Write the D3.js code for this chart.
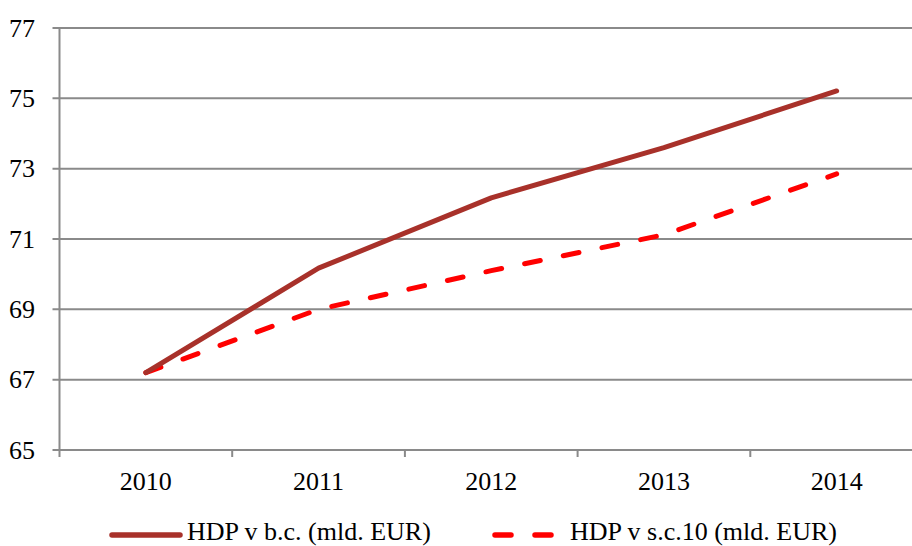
<!DOCTYPE html>
<html><head><meta charset="utf-8">
<script src="https://cdn.jsdelivr.net/npm/d3@7"></script>
<style>body{margin:0;background:#fff}svg{display:block}text{font-family:"Liberation Serif","Times New Roman",serif;fill:#000}</style>
</head><body><svg id="c" width="912" height="546"></svg>
<script>
const years = ["2010","2011","2012","2013","2014"];
const hdpBc = [67.2, 70.17, 72.17, 73.6, 75.21];
const hdpSc10 = [67.2, 69.0, 70.1, 71.12, 72.85];
const yTicks = [65, 67, 69, 71, 73, 75, 77];
const seriesNames = ["HDP v b.c. (mld. EUR)", "HDP v s.c.10 (mld. EUR)"];

(function () {
const svg = d3.select("#c");
const pL = 59.5, pR = 923, pT = 28, pB = 450;
const x = d3.scaleBand().domain(years).range([pL, pR]);
const y = d3.scaleLinear().domain([65, 77]).range([pB, pT]);
const grid = "#8a8a8a";
const fs = 26;

svg.append("g").selectAll("line").data(yTicks).join("line")
  .attr("x1", pL - 7).attr("x2", 912)
  .attr("y1", d => y(d)).attr("y2", d => y(d))
  .attr("stroke", grid).attr("stroke-width", 2);
svg.append("g").selectAll("text").data(yTicks).join("text")
  .attr("x", 35).attr("y", d => y(d)).attr("dy", "0.33em")
  .attr("text-anchor", "end").attr("font-size", fs).text(d => d);
svg.append("line").attr("x1", pL).attr("x2", pL).attr("y1", pT).attr("y2", pB + 7)
  .attr("stroke", grid).attr("stroke-width", 2);
const tickPos = years.map(d => x(d)).concat([x(years[years.length-1]) + x.bandwidth()]);
svg.append("g").selectAll("line").data(tickPos.slice(1)).join("line")
  .attr("x1", d => d).attr("x2", d => d).attr("y1", pB).attr("y2", pB + 7)
  .attr("stroke", grid).attr("stroke-width", 2);
svg.append("g").selectAll("text").data(years).join("text")
  .attr("x", d => x(d) + x.bandwidth()/2).attr("y", 490)
  .attr("text-anchor", "middle").attr("font-size", fs).text(d => d);

const line = d3.line().x((d,i) => x(years[i]) + x.bandwidth()/2).y(d => y(d));
svg.append("path").attr("d", line(hdpSc10)).attr("fill", "none")
  .attr("stroke", "#ff0000").attr("stroke-width", 5).attr("stroke-linecap", "round")
  .attr("stroke-dasharray", "16 23.5");
svg.append("path").attr("d", line(hdpBc)).attr("fill", "none")
  .attr("stroke", "#a8312a").attr("stroke-width", 5).attr("stroke-linecap", "round")
  .attr("stroke-linejoin", "round");

const lg = svg.append("g");
lg.append("line").attr("x1", 112).attr("x2", 180).attr("y1", 535).attr("y2", 535)
  .attr("stroke", "#a8312a").attr("stroke-width", 5.5).attr("stroke-linecap", "round");
lg.append("text").attr("x", 187).attr("y", 540).attr("font-size", fs).text(seriesNames[0]);
lg.append("line").attr("x1", 495).attr("x2", 551).attr("y1", 535).attr("y2", 535)
  .attr("stroke", "#ff0000").attr("stroke-width", 5.5).attr("stroke-linecap", "round")
  .attr("stroke-dasharray", "16 24");
lg.append("text").attr("x", 570).attr("y", 540).attr("font-size", fs).text(seriesNames[1]);
})();
</script></body></html>
